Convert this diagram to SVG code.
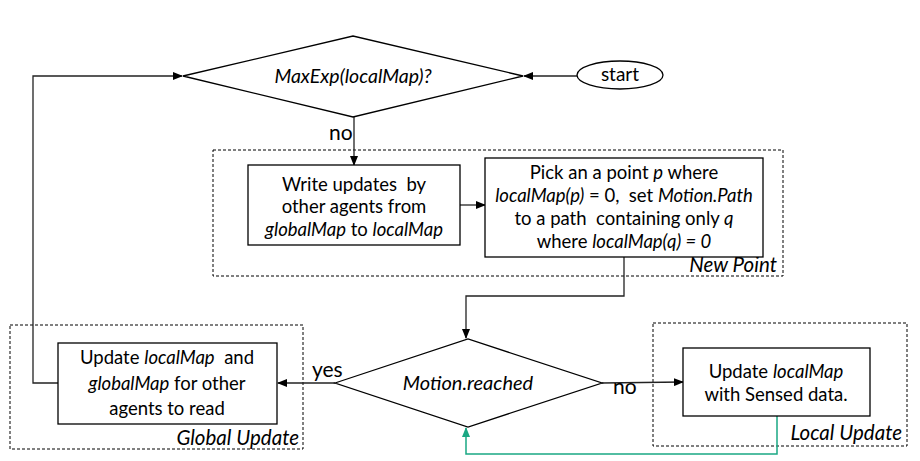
<svg xmlns="http://www.w3.org/2000/svg" width="920" height="461" viewBox="0 0 920 461">
<defs>
<marker id="ah" markerWidth="10" markerHeight="8" refX="9" refY="4" orient="auto" markerUnits="userSpaceOnUse"><path d="M0,0 L10,4 L0,8 z" fill="#000"/></marker>
<marker id="aht" markerWidth="10" markerHeight="8" refX="9" refY="4" orient="auto" markerUnits="userSpaceOnUse"><path d="M0,0 L10,4 L0,8 z" fill="#1aa884"/></marker>
</defs>
<style>
text{white-space:pre}
.sh{fill:#fff;stroke:#000;stroke-width:1.3}
.grp{fill:none;stroke:#000;stroke-width:1;stroke-dasharray:3,2}
.t{font-family:Lato,"Open Sans",sans-serif;font-size:18.5px;fill:#000;text-anchor:middle}
.lb{font-family:Lato,"Open Sans",sans-serif;font-size:21px;fill:#000}
.gl{font-family:Lato,"Open Sans",sans-serif;font-size:20.5px;font-style:italic;fill:#000;text-anchor:end}
.i{font-style:italic}
.c{fill:none;stroke:#222;stroke-width:1.3}
.ct{fill:none;stroke:#1aa884;stroke-width:1.5}
</style>
<rect width="920" height="461" fill="#fff"/>
<g id="groups">
<rect class="grp" x="213" y="150" width="570" height="126"/>
<text class="gl" x="777" y="272">New Point</text>
<rect class="grp" x="10" y="325" width="293" height="124"/>
<text class="gl" x="299" y="445">Global Update</text>
<rect class="grp" x="653" y="323" width="254" height="123"/>
<text class="gl" x="902" y="440">Local Update</text>
</g>
<g id="connectors">
<line class="c" x1="577" y1="76" x2="524" y2="76" marker-end="url(#ah)"/>
<line class="c" x1="354" y1="117" x2="354" y2="165" marker-end="url(#ah)"/>
<line class="c" x1="460" y1="205" x2="485" y2="205" marker-end="url(#ah)"/>
<polyline class="c" points="624,257 624,296 466,296 466,338" marker-end="url(#ah)"/>
<line class="c" x1="335" y1="383" x2="278" y2="383" marker-end="url(#ah)"/>
<polyline class="c" points="58,383 33,383 33,76 182,76" marker-end="url(#ah)"/>
<line class="c" x1="602" y1="383" x2="683" y2="382" marker-end="url(#ah)"/>
<polyline class="ct" points="777,416 777,454 466,454 466,428" marker-end="url(#aht)"/>
<text class="lb" x="329" y="140">no</text>
<text class="lb" x="312" y="377">yes</text>
<text class="lb" x="613" y="394">no</text>
</g>
<g id="start">
<ellipse class="sh" cx="620" cy="75" rx="43" ry="14"/>
<text class="t" x="620" y="81" style="font-size:19px">start</text>
</g>
<g id="maxexp">
<polygon class="sh" points="183,76 353,36 523,76 353,117"/>
<text class="t i" x="353" y="83" style="font-size:19.5px">MaxExp(localMap)?</text>
</g>
<g id="write">
<rect class="sh" x="248" y="165" width="212" height="80"/>
<text class="t" x="354" y="191">Write updates  by</text>
<text class="t" x="354" y="213">other agents from</text>
<text class="t" x="354" y="236"><tspan class="i">globalMap</tspan> to <tspan class="i">localMap</tspan></text>
</g>
<g id="pick">
<rect class="sh" x="485" y="158" width="278" height="99"/>
<text class="t" x="624" y="179">Pick an a point <tspan class="i">p</tspan> where</text>
<text class="t" x="624" y="202"><tspan class="i">localMap(p)</tspan> = 0,  set <tspan class="i">Motion.Path</tspan></text>
<text class="t" x="624" y="225">to a path  containing only <tspan class="i">q</tspan></text>
<text class="t" x="624" y="248">where <tspan class="i">localMap(q) = 0</tspan></text>
</g>
<g id="motion">
<polygon class="sh" points="335,383 468,339 602,383 468,427"/>
<text class="t i" x="468" y="390" style="font-size:20px">Motion.reached</text>
</g>
<g id="global">
<rect class="sh" x="58" y="343" width="219" height="81"/>
<text class="t" x="167" y="364">Update <tspan class="i">localMap</tspan>  and</text>
<text class="t" x="167" y="390"><tspan class="i">globalMap</tspan> for other</text>
<text class="t" x="167" y="415">agents to read</text>
</g>
<g id="local">
<rect class="sh" x="683" y="348" width="187" height="68"/>
<text class="t" x="776" y="378">Update <tspan class="i">localMap</tspan></text>
<text class="t" x="776" y="401">with Sensed data.</text>
</g>
</svg>
